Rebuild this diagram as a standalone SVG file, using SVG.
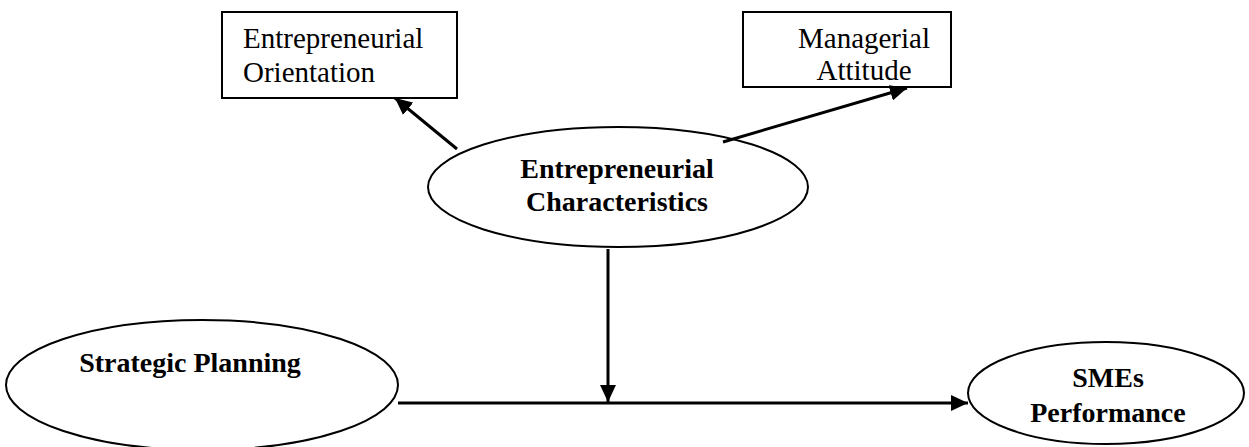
<svg xmlns="http://www.w3.org/2000/svg" width="1249" height="447" viewBox="0 0 1249 447">
<style>
.box{fill:#fff;stroke:#000;stroke-width:2}
.ell{fill:#fff;stroke:#000;stroke-width:2}
.t{font-family:"Liberation Serif","Times New Roman",serif;font-size:29px;fill:#000}
.b{font-weight:bold;font-size:28px}
.c{stroke:#000;stroke-width:3;fill:none}
</style>
<defs>
<marker id="ah" markerUnits="userSpaceOnUse" markerWidth="18" markerHeight="16" refX="17" refY="8" orient="auto">
<path d="M0,0 L17,8 L0,16 z" fill="#000"/>
</marker>
</defs>
<g id="node-eo">
<rect class="box" x="222" y="12" width="235" height="86"/>
<text class="t" x="243" y="48">Entrepreneurial</text>
<text class="t" x="243" y="82">Orientation</text>
</g>
<g id="node-ma">
<rect class="box" x="743" y="12" width="208" height="75"/>
<text class="t" x="864" y="48" text-anchor="middle">Managerial</text>
<text class="t" x="864" y="80" text-anchor="middle">Attitude</text>
</g>
<g id="node-ec">
<ellipse class="ell" cx="618" cy="187" rx="190" ry="60"/>
<text class="t b" x="617" y="178" text-anchor="middle">Entrepreneurial</text>
<text class="t b" x="617" y="211" text-anchor="middle">Characteristics</text>
</g>
<g id="node-sp">
<ellipse class="ell" cx="202" cy="385" rx="196" ry="65"/>
<text class="t b" x="190" y="372" text-anchor="middle">Strategic Planning</text>
</g>
<g id="node-sme">
<ellipse class="ell" cx="1106" cy="393" rx="138" ry="51"/>
<text class="t b" x="1108" y="387" text-anchor="middle">SMEs</text>
<text class="t b" x="1108" y="422" text-anchor="middle">Performance</text>
</g>
<g id="connectors">
<line class="c" x1="457" y1="149" x2="395" y2="98" marker-end="url(#ah)"/>
<line class="c" x1="723" y1="142" x2="907" y2="88" marker-end="url(#ah)"/>
<line class="c" x1="608" y1="249" x2="608" y2="402" marker-end="url(#ah)"/>
<line class="c" x1="398" y1="403" x2="968" y2="403" marker-end="url(#ah)"/>
</g>
</svg>
